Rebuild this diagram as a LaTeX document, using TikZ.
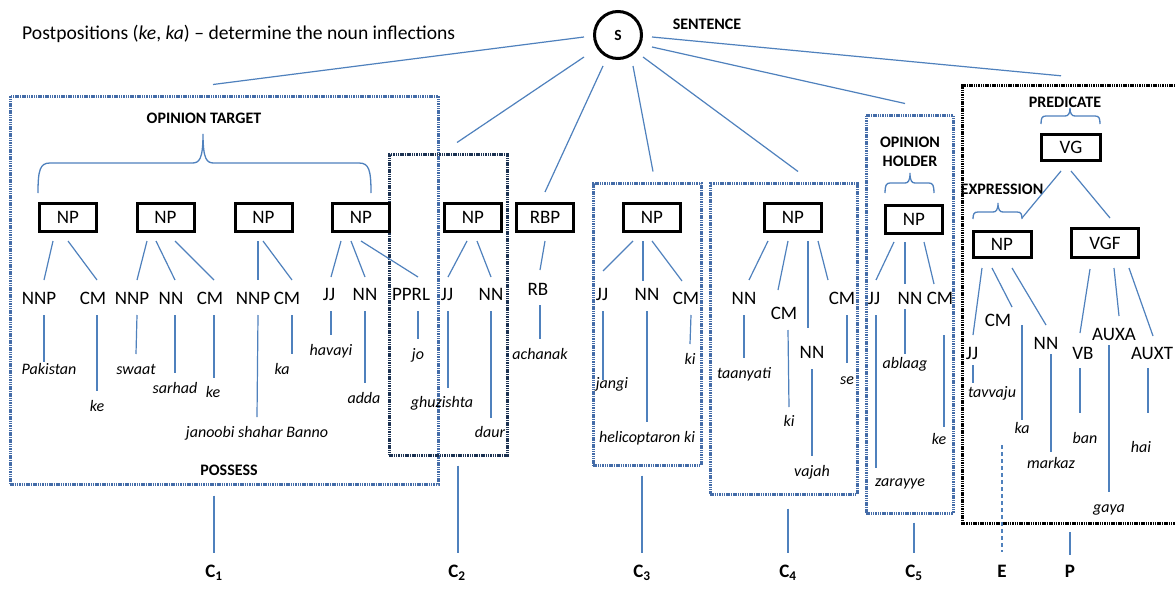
\documentclass[tikz,border=0pt]{standalone}
\usepackage{fontspec}
\setmainfont{Carlito}
\usetikzlibrary{calc}
\definecolor{lnblue}{RGB}{79,129,189}
\definecolor{bxblue}{RGB}{68,108,168}
\definecolor{bxnavy}{RGB}{28,50,82}
\tikzset{
 conn/.style={draw=lnblue, line width=1.2pt},
 npbox/.style={draw=black, line width=3pt, minimum width=57pt, minimum height=28pt, inner sep=0pt, font=\fontsize{19}{19}\selectfont, text height=12.5pt, text depth=0pt},
 tag/.style={inner sep=0pt, font=\fontsize{19}{19}\selectfont, text height=12.5pt, text depth=0pt},
 word/.style={inner sep=0pt, font=\fontsize{16}{16}\selectfont\itshape, text height=8pt, text depth=0pt},
 lbl/.style={inner sep=0pt, font=\fontsize{16}{16}\selectfont\bfseries, text height=10pt, text depth=0pt},
 clbl/.style={inner sep=0pt, font=\fontsize{19}{19}\selectfont\bfseries, text height=12.5pt, text depth=0pt},
 dotbox/.style={draw=bxblue, line width=3pt, dash pattern=on 1.5pt off 0.8pt, inner sep=0pt},
 brace/.style={draw=lnblue, line width=1.3pt},
}
\newcommand\edgeln[5][]{\draw[conn,#1] ($(#2)+(#3)$) -- ($(#4)+(#5)$);}
\begin{document}
\begin{tikzpicture}[x=1pt,y=-1pt]
\useasboundingbox (0,0) rectangle (1175,589);
\fill[white] (0,0) rectangle (1175,589);

% title
\node[anchor=base west, inner sep=0pt, font=\fontsize{19.6}{20}\selectfont] (title) at (22,39.5) {Postpositions (\textit{ke}, \textit{ka}) -- determine the noun inflections};

% dotted group boxes
\node[dotbox, minimum width=428pt, minimum height=388pt] (c1box) at (224,290) {};
\node[dotbox, draw=bxnavy, minimum width=118pt, minimum height=301pt] (c2box) at (448,304.5) {};
\node[dotbox, minimum width=108pt, minimum height=282pt] (c3box) at (647,324) {};
\node[dotbox, minimum width=147pt, minimum height=311pt] (c4box) at (783.5,338.5) {};
\node[dotbox, minimum width=87pt, minimum height=398pt] (c5box) at (909.5,314) {};
\node[inner sep=0pt, minimum width=212pt, minimum height=437pt] (epbox) at (1069,304.5) {};
\draw[dotbox, draw=black, line width=3.2pt] (epbox.north east) -- (epbox.north west) -- (epbox.south west) -- (epbox.south east);

% sentence root
\node[circle, draw=black, line width=3pt, minimum size=47pt, inner sep=0pt, font=\fontsize{15.5}{15.5}\selectfont\bfseries] (s) at (618,35) {S};
\node[lbl] (sent) at (707,24) {SENTENCE};

% labels
\node[lbl] (optarget) at (204,118) {OPINION TARGET};
\node[lbl] (possess) at (229,470) {POSSESS};
\node[inner sep=0pt, align=center, font=\fontsize{16}{19}\selectfont\bfseries] (opholder) at (910,152) {OPINION\\HOLDER};
\node[lbl] (pred) at (1065,102) {PREDICATE};
\node[lbl] (expr) at (1002,189) {EXPRESSION};

% braces
\draw[brace] (38,193) .. controls (38,170) and (40,163) .. (50,163) -- (192,163) .. controls (199,163) and (203,160) .. (203,134) .. controls (203,160) and (207,163) .. (214,163) -- (359,163) .. controls (369,163) and (371,170) .. (371,193);
\draw[brace] (885,193) .. controls (885,186) and (886,183) .. (890,183) -- (905,183) .. controls (908,183) and (910,181) .. (910,173) .. controls (910,181) and (912,183) .. (915,183) -- (929,183) .. controls (933,183) and (934,186) .. (934,193);
\draw[brace] (1041,124) .. controls (1041,118) and (1042,116) .. (1046,116) -- (1065,116) .. controls (1068,116) and (1070,114) .. (1070,108) .. controls (1070,114) and (1072,116) .. (1075,116) -- (1095,116) .. controls (1099,116) and (1100,118) .. (1100,124);
\draw[brace] (973,219) .. controls (973,214) and (974,212) .. (978,212) -- (993,212) .. controls (996,212) and (998,210) .. (998,203) .. controls (998,210) and (1000,212) .. (1003,212) -- (1017,212) .. controls (1021,212) and (1022,214) .. (1022,219);

% phrase boxes
\node[npbox] (np1) at (68,217) {NP};
\node[npbox] (np2) at (165.5,217) {NP};
\node[npbox] (np3) at (263.5,217) {NP};
\node[npbox] (np4) at (361,217) {NP};
\node[npbox] (np5) at (473,217) {NP};
\node[npbox] (rbp) at (545,217) {RBP};
\node[npbox] (np6) at (652,217) {NP};
\node[npbox] (np7) at (793,217) {NP};
\node[npbox] (np8) at (914,219) {NP};
\node[npbox, minimum width=59pt, minimum height=26pt] (vg) at (1071,147) {VG};
\node[npbox, minimum width=58pt, minimum height=26pt] (np9) at (1002,244) {NP};
\node[npbox, minimum width=67pt, minimum height=29pt] (vgf) at (1105,243) {VGF};

% tags
\node[tag] (t1) at (39,298) {NNP};
\node[tag] (t2) at (93,298) {CM};
\node[tag] (t3) at (132,298) {NNP};
\node[tag] (t4) at (171,298) {NN};
\node[tag] (t5) at (210,298) {CM};
\node[tag] (t6) at (253,298) {NNP};
\node[tag] (t7) at (287,298) {CM};
\node[tag] (t8) at (329,294) {JJ};
\node[tag] (t9) at (365,294) {NN};
\node[tag] (t10) at (411,294) {PPRL};
\node[tag] (t11) at (447,294) {JJ};
\node[tag] (t12) at (491,294) {NN};
\node[tag] (t13) at (538,289) {RB};
\node[tag] (t14) at (602,294) {JJ};
\node[tag] (t15) at (647,294) {NN};
\node[tag] (t16) at (686,298) {CM};
\node[tag] (t17) at (744,298) {NN};
\node[tag] (t18) at (784,313) {CM};
\node[tag] (t19) at (812,352) {NN};
\node[tag] (t20) at (842,298) {CM};
\node[tag] (t21) at (874,298) {JJ};
\node[tag] (t22) at (910,298) {NN};
\node[tag] (t23) at (940,298) {CM};
\node[tag] (t24) at (972,353) {JJ};
\node[tag] (t25) at (998,320) {CM};
\node[tag] (t26) at (1046,343) {NN};
\node[tag] (t27) at (1083,353) {VB};
\node[tag] (t28) at (1114,334) {AUXA};
\node[tag] (t29) at (1152,353) {AUXT};

% words
\node[word] (w1) at (49,370) {Pakistan};
\node[word] (w2) at (97,407) {ke};
\node[word] (w3) at (136,370) {swaat};
\node[word] (w4) at (175,389) {sarhad};
\node[word] (w5) at (213,393) {ke};
\node[word] (w6) at (257,433) {janoobi shahar Banno};
\node[word] (w7) at (282,370) {ka};
\node[word] (w8) at (331,351) {havayi};
\node[word] (w9) at (364,399) {adda};
\node[word] (w10) at (418,355) {jo};
\node[word] (w11) at (442,403) {ghuzishta};
\node[word] (w12) at (490,433) {daur};
\node[word] (w13) at (540,355) {achanak};
\node[word] (w14) at (612,384) {jangi};
\node[word] (w15) at (647,438) {helicoptaron ki};
\node[word] (w16) at (690,360) {ki};
\node[word] (w17) at (744,374) {taanyati};
\node[word] (w18) at (789,422) {ki};
\node[word] (w19) at (812,472) {vajah};
\node[word] (w20) at (847,380) {se};
\node[word] (w21) at (900,482) {zarayye};
\node[word] (w22) at (905,364) {ablaag};
\node[word] (w23) at (939,440) {ke};
\node[word] (w24) at (992,393) {tavvaju};
\node[word] (w25) at (1022,429) {ka};
\node[word] (w26) at (1051,464) {markaz};
\node[word] (w27) at (1085,439) {ban};
\node[word] (w28) at (1109,508) {gaya};
\node[word] (w29) at (1141,448) {hai};

% bottom labels
\node[clbl] (l1) at (214,571.5) {C\textsubscript{1}};
\node[clbl] (l2) at (457,571.5) {C\textsubscript{2}};
\node[clbl] (l3) at (642,571.5) {C\textsubscript{3}};
\node[clbl] (l4) at (788,571.5) {C\textsubscript{4}};
\node[clbl] (l5) at (914,571.5) {C\textsubscript{5}};
\node[clbl] (lE) at (1002,571.5) {E};
\node[clbl] (lP) at (1070,571.5) {P};
\coordinate (etop) at (1002,445);

% S edges
\edgeln{s}{-34,2}{c1box.north}{-11,-10}
\edgeln{s}{-34,22}{c2box.north}{9,-10}
\edgeln{s}{-15,31}{rbp}{0,-25}
\edgeln{s}{15,31}{c3box.north}{6,-10}
\edgeln{s}{25,22}{c4box.north}{14.5,-10}
\edgeln{s}{34,12}{c5box.north}{-4.5,-10}
\edgeln{s}{34,2}{epbox.north}{-8,-10}

% VG edges
\edgeln{vg}{-10,24}{np9}{20,-26}
\edgeln{vg}{0,24}{vgf}{5,-25}

% phrase -> tag
\edgeln{np1}{-15,24}{t1}{5,-18}
\edgeln{np1}{0,24}{t2}{4,-18}
\edgeln{np2}{-18.5,24}{t3}{5,-18}
\edgeln{np2}{-9.5,24}{t4}{4,-18}
\edgeln{np2}{9.5,24}{t5}{4,-18}
\edgeln{np3}{-5.5,24}{t6}{5,-18}
\edgeln{np3}{-0.5,24}{t7}{5,-18}
\edgeln{np4}{-20,24}{t8}{2,-17}
\edgeln{np4}{-10,24}{t9}{0,-17}
\edgeln{np4}{0,24}{t10}{7,-17}
\edgeln{np5}{-6,24}{t11}{1,-17}
\edgeln{np5}{4,24}{t12}{0,-17}
\edgeln{rbp}{0,24}{t13}{2,-19}
\edgeln{np6}{-19,24}{t14}{1,-23}
\edgeln{np6}{-9,24}{t15}{-4,-13}
\edgeln{np6}{0,24}{t16}{-4,-17}
\edgeln{np7}{-25,24}{t17}{5,-18}
\edgeln{np7}{-5,24}{t18}{-6,-23}
\edgeln{np7}{15,24}{t19}{-4,-24}
\edgeln{np7}{25,24}{t20}{-14,-18}
\edgeln{np8}{-20,23}{t21}{2,-18}
\edgeln{np8}{-9,23}{t22}{-5,-14}
\edgeln{np8}{10,23}{t23}{-6,-14}
\edgeln{np9}{-20,24}{t24}{1,-18}
\edgeln{np9}{-10,24}{t25}{14,-13}
\edgeln{np9}{10,24}{t26}{0,-18}
\edgeln{vgf}{-15,26}{t27}{-3,-20}
\edgeln{vgf}{9,25}{t28}{5,-18}
\edgeln{vgf}{24,25}{t29}{1,-17}

% tag -> word
\edgeln{t1}{5,17}{w1}{-5,-8}
\edgeln{t2}{4,17}{w2}{0,-16}
\edgeln{t3}{5,17}{w3}{0,-16}
\edgeln{t4}{4,17}{w4}{0,-16}
\edgeln{t5}{4,17}{w5}{1,-15}
\edgeln{t6}{5,17}{w6}{0,-16}
\edgeln{t7}{5,17}{w7}{10,-16}
\edgeln{t8}{2,17}{w8}{0,-16}
\edgeln{t9}{0,17}{w9}{1,-16}
\edgeln{t10}{7,17}{w10}{0,-16}
\edgeln{t11}{1,17}{w11}{6,-15}
\edgeln{t12}{0,17}{w12}{1,-15}
\edgeln{t13}{2,16}{w13}{0,-16}
\edgeln{t14}{1,17}{w14}{-9,-4}
\edgeln{t15}{0,17}{w15}{0,-16}
\edgeln{t16}{5,17}{w16}{0,-16}
\edgeln{t17}{0,17}{w17}{0,-16}
\edgeln{t18}{4,17}{w18}{0,-15}
\edgeln{t19}{0,17}{w19}{0,-16}
\edgeln{t20}{5,17}{w20}{0,-17}
\edgeln{t21}{2,17}{w21}{-24,-14}
\edgeln{t22}{-5,11}{w22}{0,-10}
\edgeln{t23}{4,37}{w23}{5,-13}
\edgeln{t24}{1,12}{w24}{-19,-10}
\edgeln{t25}{24,5}{w25}{0,-9}
\edgeln{t26}{5,11}{w26}{0,-12}
\edgeln{t27}{-3,15}{w27}{-5,-26}
\edgeln{t28}{-5,11}{w28}{0,-16}
\edgeln{t29}{-4,15}{w29}{7,-35}

% boxes -> bottom labels
\edgeln{c1box.south}{-10,10}{l1}{0,-18.5}
\edgeln{c2box.south}{10,9}{l2}{1,-18.5}
\edgeln{c3box.south}{-5,9}{l3}{0,-18.5}
\edgeln{c4box.south}{4.5,13}{l4}{0,-18.5}
\edgeln{c5box.south}{4.5,8}{l5}{0,-18.5}
\draw[conn, line width=1.5pt, dash pattern=on 4pt off 3pt] (etop) -- ($(lE)+(0,-19.5)$);
\edgeln{epbox.south}{1,9}{lP}{0,-16.5}
\end{tikzpicture}
\end{document}
